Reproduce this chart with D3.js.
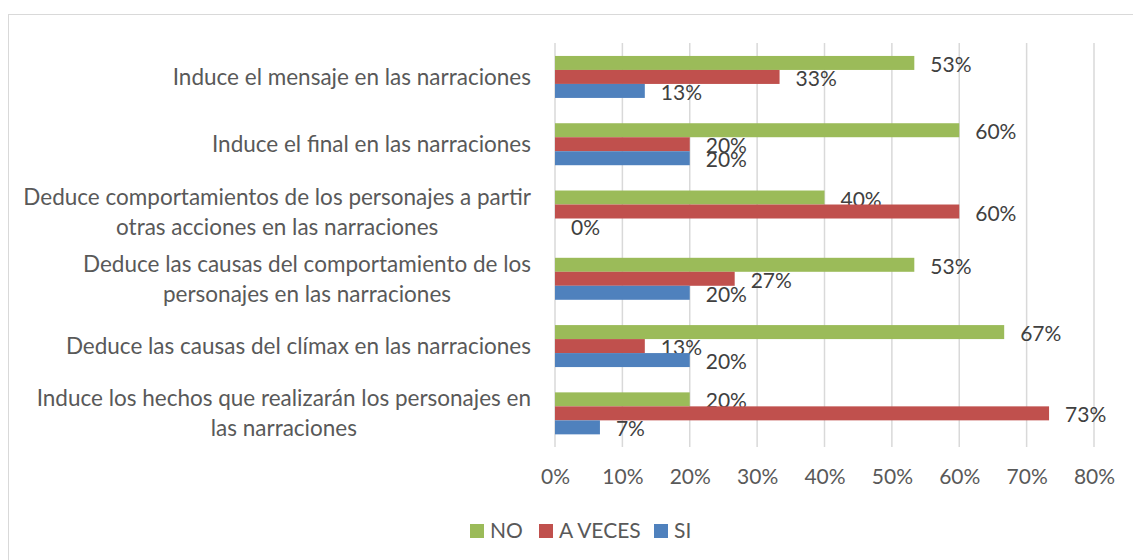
<!DOCTYPE html>
<html>
<head>
<meta charset="utf-8">
<script src="https://cdn.jsdelivr.net/npm/d3@7"></script>
<style>
  body { margin: 0; background: #fff; }
  text { font-family: Lato, "Open Sans", sans-serif; }
</style>
</head>
<body>
<div id="chart"></div>
<script>
// categories, top to bottom (label lines)
var categories = [
  ["Induce el mensaje en las narraciones"],
  ["Induce el final en las narraciones"],
  ["Deduce comportamientos de los personajes a partir", "otras acciones en las narraciones"],
  ["Deduce las causas del comportamiento de los", "personajes en las narraciones"],
  ["Deduce las causas del clímax en las narraciones"],
  ["Induce los hechos que realizarán los personajes en", "las narraciones"]
];
var seriesNames = ["NO", "A VECES", "SI"];
var seriesColors = ["#9BBB59", "#C0504D", "#4F81BD"];
var valuesNO     = [0.5333, 0.60, 0.40, 0.5333, 0.6667, 0.20];
var valuesAVeces = [0.3333, 0.20, 0.60, 0.2667, 0.1333, 0.7333];
var valuesSI     = [0.1333, 0.20, 0.00, 0.20, 0.20, 0.0667];
var xTicks = [0, 0.1, 0.2, 0.3, 0.4, 0.5, 0.6, 0.7, 0.8];

var width = 1133, height = 560;
var svg = d3.select("#chart").append("svg")
    .attr("width", width)
    .attr("height", height);

// outer chart border (right/bottom run past the window)
svg.append("rect")
    .attr("x", 8.5).attr("y", 14.5)
    .attr("width", 1200).attr("height", 600)
    .attr("fill", "none")
    .attr("stroke", "#d9d9d9");

var x = d3.scaleLinear().domain([0, 0.8]).range([555, 1094]);
var y = d3.scaleBand()
    .domain(d3.range(categories.length))
    .range([43.3, 447])
    .paddingInner(0.376)
    .paddingOuter(0.188);
var ySeries = d3.scaleBand().domain(d3.range(3)).range([0, y.bandwidth()]);

// vertical gridlines
svg.append("g").selectAll("line")
    .data(xTicks)
    .enter().append("line")
    .attr("x1", function(d){ return x(d); })
    .attr("x2", function(d){ return x(d); })
    .attr("y1", 43).attr("y2", 447)
    .style("stroke", "#d9d9d9")
    .style("stroke-width", 1.5);

// x axis labels
var xAxis = d3.axisBottom(x).tickValues(xTicks).tickFormat(d3.format(".0%")).tickSize(0).tickPadding(0);
var ax = svg.append("g").attr("transform", "translate(0,484)").call(xAxis);
ax.select(".domain").remove();
ax.selectAll("text")
    .attr("dy", 0).attr("y", 0)
    .style("font-family", "Lato, sans-serif")
    .style("font-size", "21px")
    .style("fill", "#595959");

// category labels: right aligned block, lines centered inside
var labelRight = 531, lineH = 30;
categories.forEach(function(lines, i){
  var g = svg.append("g");
  var texts = lines.map(function(l, j){
    return g.append("text")
        .text(l)
        .style("font-size", "22.5px")
        .style("fill", "#595959")
        .attr("text-anchor", "middle");
  });
  var w = d3.max(texts, function(t){ return t.node().getComputedTextLength(); });
  var cy = y(i) + y.bandwidth() / 2;
  var top = cy - (lines.length - 1) * lineH / 2;
  texts.forEach(function(t, j){
    t.attr("x", labelRight - w / 2).attr("y", top + j * lineH + 8);
  });
});

// bars
var allSeries = [valuesNO, valuesAVeces, valuesSI];
allSeries.forEach(function(vals, s){
  var g = svg.append("g");
  g.selectAll("rect")
      .data(vals)
      .enter().append("rect")
      .attr("x", x(0))
      .attr("y", function(d, i){ return y(i) + ySeries(s); })
      .attr("width", function(d){ return x(d) - x(0); })
      .attr("height", ySeries.bandwidth())
      .attr("fill", seriesColors[s]);
  g.selectAll("text")
      .data(vals)
      .enter().append("text")
      .attr("x", function(d){ return x(d) + 16; })
      .attr("y", function(d, i){ return y(i) + ySeries(s) + ySeries.bandwidth() / 2 + 9; })
      .style("font-size", "21px")
      .style("fill", "#404040")
      .text(function(d){ return d3.format(".0%")(d); });
});

// legend
var legendX = [470, 539, 654];
seriesNames.forEach(function(n, s){
  svg.append("rect")
      .attr("x", legendX[s]).attr("y", 524)
      .attr("width", 14).attr("height", 14)
      .attr("fill", seriesColors[s]);
  svg.append("text")
      .attr("x", legendX[s] + 20).attr("y", 538)
      .style("font-size", "21px")
      .style("fill", "#595959")
      .text(n);
});
</script>
</body>
</html>
